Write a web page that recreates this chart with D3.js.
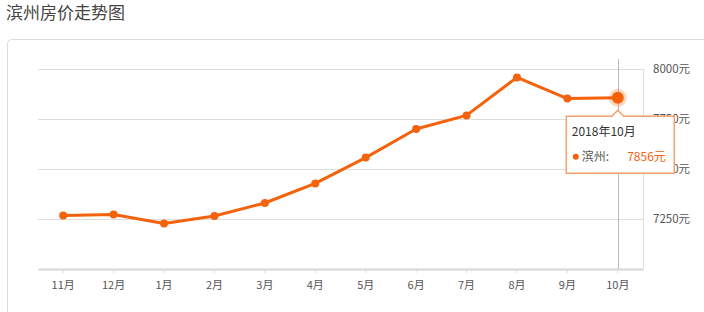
<!DOCTYPE html>
<html>
<head>
<meta charset="utf-8">
<script src="https://cdn.jsdelivr.net/npm/d3@7"></script>
<style>
  body { margin: 0; background: #fff; }
  svg { display: block; font-family: "Noto Sans CJK SC", "Noto Sans", sans-serif; }
</style>
</head>
<body>
<svg id="chart"></svg>
<script>
// Data
const months = ["11月", "12月", "1月", "2月", "3月", "4月", "5月", "6月", "7月", "8月", "9月", "10月"];
const prices = [7267, 7273, 7228, 7265, 7330, 7428, 7557, 7700, 7768, 7958, 7852, 7856];
const yTicks = [7000, 7250, 7500, 7750, 8000];
const title = "滨州房价走势图";
const cityName = "滨州";
const tipLabel = "2018年10月";

const W = 704, H = 312;
const margin = { top: 69, right: 61, bottom: 43, left: 38 };
const width = W - margin.left - margin.right;
const height = H - margin.top - margin.bottom;
const orange = "#f5620c";

const svg = d3.select("#chart").attr("width", W).attr("height", H);

// Title
svg.append("text")
  .attr("x", 6).attr("y", 19)
  .style("font-size", "17px")
  .style("fill", "#444")
  .text(title);

// Panel border
svg.append("rect")
  .attr("x", 7.5).attr("y", 39.5)
  .attr("width", 720).attr("height", 300)
  .attr("rx", 4)
  .attr("fill", "none")
  .attr("stroke", "#ddd");

const g = svg.append("g").attr("transform", `translate(${margin.left}, ${margin.top})`);

// Scales
const x = d3.scaleBand().domain(months).range([0, width]);
const y = d3.scaleLinear().domain([7000, 8000]).range([height, 0]);
const cx = (d) => x(d) + x.bandwidth() / 2;

// Gridlines
g.selectAll(".grid")
  .data(yTicks.filter((t) => t > 7000))
  .enter()
  .append("line")
  .attr("x1", 0).attr("x2", width)
  .attr("y1", (d) => Math.round(y(d)) + 0.5)
  .attr("y2", (d) => Math.round(y(d)) + 0.5)
  .attr("stroke", "#ddd");

// Right border of grid
g.append("line")
  .attr("x1", width + 0.5).attr("x2", width + 0.5)
  .attr("y1", 0).attr("y2", height)
  .attr("stroke", "#ddd");

// Y axis labels (right side)
const yAxis = d3.axisRight(y)
  .tickValues(yTicks.filter((t) => t > 7000))
  .tickSize(0)
  .tickPadding(10)
  .tickFormat((d) => d + "元");
g.append("g")
  .attr("transform", `translate(${width}, 0)`)
  .call(yAxis)
  .call((s) => s.select(".domain").remove())
  .call((s) => s.selectAll("text")
    .style("font-size", "11.5px")
    .style("fill", "#555")
    .style("font-family", "\"Noto Sans CJK SC\", sans-serif"));

// X axis
const xAxis = d3.axisBottom(x).tickSize(4).tickSizeOuter(0).tickPadding(8);
g.append("g")
  .attr("transform", `translate(0, ${height})`)
  .call(xAxis)
  .call((s) => s.select(".domain")
    .attr("stroke", "#d6d6d6").attr("stroke-width", 2))
  .call((s) => s.selectAll(".tick line").attr("stroke", "#ddd"))
  .call((s) => s.selectAll("text")
    .style("font-size", "11px")
    .style("fill", "#555")
    .style("font-family", "\"Noto Sans CJK SC\", sans-serif"));

// Crosshair on last month
const last = months.length - 1;
g.append("line")
  .attr("x1", Math.round(cx(months[last])) + 0.5)
  .attr("x2", Math.round(cx(months[last])) + 0.5)
  .attr("y1", -10).attr("y2", height)
  .attr("stroke", "#bbb");

// Line
const line = d3.line()
  .x((d, i) => cx(months[i]))
  .y((d) => y(d));

g.append("path")
  .datum(prices)
  .attr("d", line)
  .attr("fill", "none")
  .attr("stroke", orange)
  .attr("stroke-width", 3)
  .attr("stroke-linejoin", "round");

// Points
g.selectAll(".dot")
  .data(prices)
  .enter()
  .append("circle")
  .attr("cx", (d, i) => cx(months[i]))
  .attr("cy", (d) => y(d))
  .attr("r", 4)
  .attr("fill", orange);

// Highlighted point
const hx = cx(months[last]), hy = y(prices[last]);
g.append("circle").attr("cx", hx).attr("cy", hy).attr("r", 9)
  .attr("fill", orange).attr("fill-opacity", 0.25);
g.append("circle").attr("cx", hx).attr("cy", hy).attr("r", 6)
  .attr("fill", orange);

// Tooltip
const tip = g.append("g").attr("transform", `translate(${hx}, ${hy + 12})`);
const tw = 108, th = 57, tl = -52;
tip.append("path")
  .attr("d", `M${tl + 0.5},6.5 H-6 L0,0.5 L6,6.5 H${tl + tw + 0.5} V${6.5 + th} H${tl + 0.5} Z`)
  .attr("fill", "#fff")
  .attr("stroke", "#f5a06a")
  .attr("stroke-width", 1.5);
tip.append("text")
  .attr("x", tl + 6).attr("y", 26)
  .style("font-size", "12px").style("fill", "#333")
  .text(tipLabel);
tip.append("circle")
  .attr("cx", tl + 10).attr("cy", 47).attr("r", 3)
  .attr("fill", orange);
tip.append("text")
  .attr("x", tl + 16).attr("y", 51)
  .style("font-size", "12px").style("fill", "#555")
  .text(cityName + ":");
tip.append("text")
  .attr("x", tl + tw - 8).attr("y", 51)
  .attr("text-anchor", "end")
  .style("font-size", "12px").style("fill", orange)
  .text(prices[last] + "元");
</script>
</body>
</html>
